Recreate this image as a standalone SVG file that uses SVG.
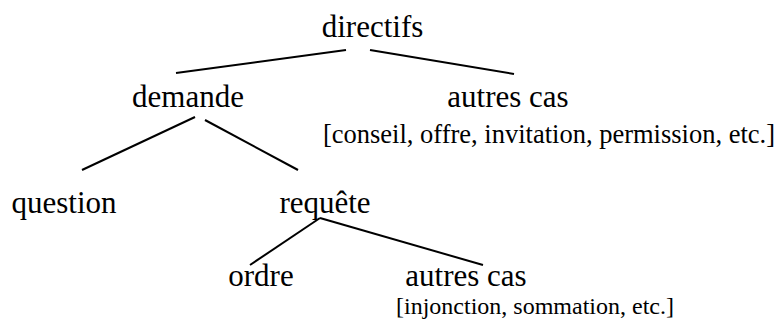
<svg xmlns="http://www.w3.org/2000/svg" width="779" height="320" viewBox="0 0 779 320">
<style>
.lbl{font-family:"Liberation Serif","Times New Roman",serif;font-size:31px;fill:#000;text-anchor:middle}
.sub{font-family:"Liberation Serif","Times New Roman",serif;font-size:25px;fill:#000;text-anchor:middle}
.edge{stroke:#000;stroke-width:2;fill:none}
</style>
<rect width="779" height="320" fill="#fff"/>
<g id="connectors">
<line class="edge" x1="346" y1="50" x2="176" y2="73"/>
<line class="edge" x1="370" y1="50" x2="514" y2="74"/>
<line class="edge" x1="195" y1="117" x2="82" y2="170"/>
<line class="edge" x1="205" y1="120" x2="298" y2="170"/>
<line class="edge" x1="320" y1="218" x2="250" y2="265"/>
<line class="edge" x1="320" y1="218" x2="483" y2="265"/>
</g>
<g id="n-directifs"><text class="lbl" x="372.5" y="37">directifs</text></g>
<g id="n-demande"><text class="lbl" x="188" y="107">demande</text></g>
<g id="n-autres1"><text class="lbl" x="508" y="107">autres cas</text><text class="sub" x="549" y="143" style="font-size:26.5px">[conseil, offre, invitation, permission, etc.]</text></g>
<g id="n-question"><text class="lbl" x="64" y="213">question</text></g>
<g id="n-requete"><text class="lbl" x="325" y="213">requête</text></g>
<g id="n-ordre"><text class="lbl" x="261" y="286">ordre</text></g>
<g id="n-autres2"><text class="lbl" x="466" y="286">autres cas</text><text class="sub" x="535" y="314" style="font-size:24px">[injonction, sommation, etc.]</text></g>
</svg>
